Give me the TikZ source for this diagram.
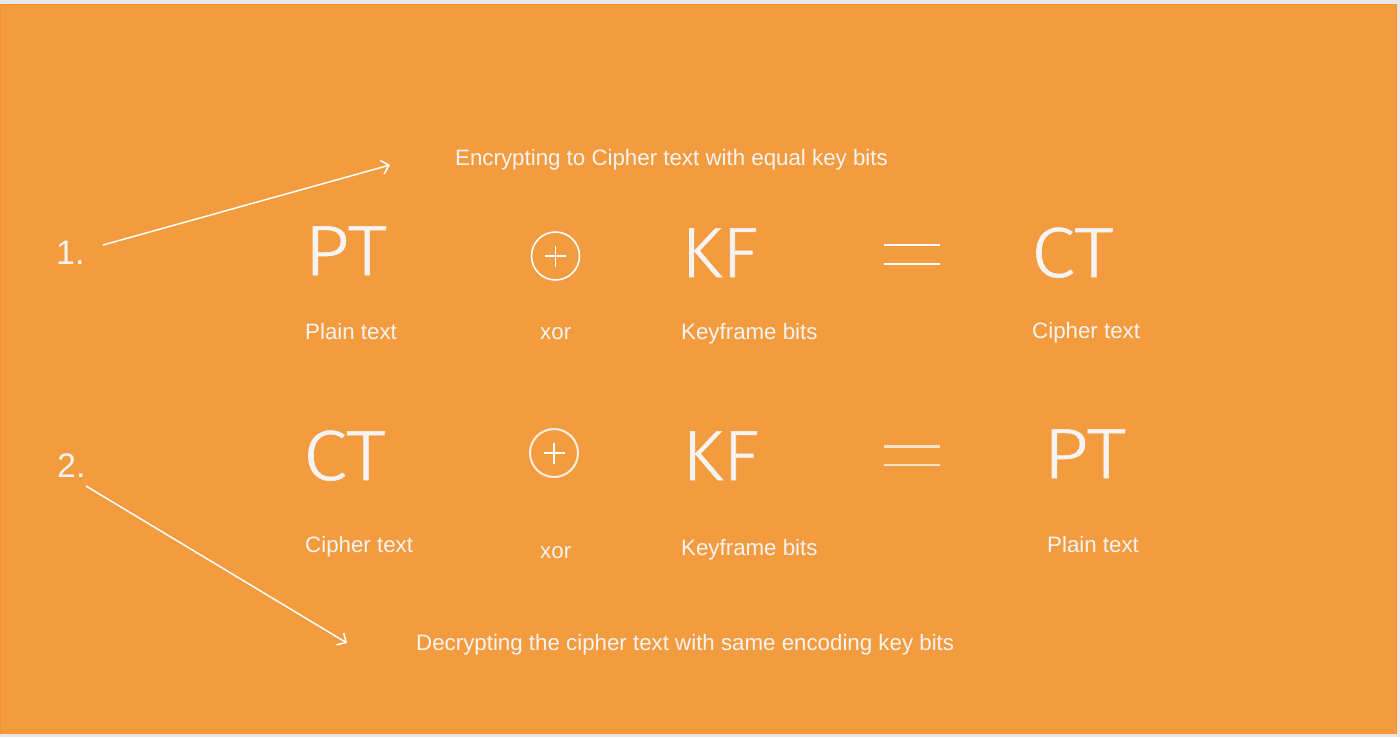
\documentclass[tikz,border=0pt]{standalone}
\usepackage{fontspec}
\setmainfont{Liberation Sans}
\newfontfamily\bigfont[FakeStretch=1.12,FakeBold=0.8]{Fira Sans Light}
\newfontfamily\bigfontk[FakeStretch=1.05,FakeBold=0.8]{Fira Sans Light}
\usetikzlibrary{arrows.meta}
\definecolor{bgorange}{HTML}{F39B3F}
\definecolor{edgeorange}{HTML}{F7921E}
\definecolor{pagegray}{HTML}{E6E6E6}
\definecolor{txt}{HTML}{F6F4F2}
\tikzset{
  lbl/.style={anchor=base west, inner sep=0pt, text=txt, font=\fontsize{22.3}{26}\selectfont},
  big/.style={anchor=base west, inner sep=0pt, text=txt, font=\bigfont\fontsize{71}{80}\selectfont},
  bigk/.style={anchor=base west, inner sep=0pt, text=txt, font=\bigfontk\fontsize{71}{80}\selectfont},
  num/.style={anchor=base west, inner sep=0pt, text=txt, font=\fontsize{34}{40}\selectfont},
  pointer/.style={draw=white, line width=1.5pt, -{Straight Barb[length=7pt,width=14pt,line width=1.5pt]}},
  xorring/.style={draw=white, line width=1.6pt},
  eqline/.style={draw=white, line width=1.4pt},
  eqlinesoft/.style={draw=white, draw opacity=0.7, line width=2.2pt}
}
\begin{document}
\begin{tikzpicture}[x=1pt,y=-1pt]
\useasboundingbox (0,0) rectangle (1400,737);
\fill[pagegray] (0,0) rectangle (1400,737);
\fill[bgorange, draw=edgeorange, line width=1pt] (0,4) rectangle (1396,733);

% headings
\node[lbl] (enc) at (455,165) {Encrypting to Cipher text with equal key bits};
\node[lbl] (dec) at (416,650) {Decrypting the cipher text with same encoding key bits};

% step numbers and pointers
\node[num] (one) at (56,264) {1.};
\node[num] (two) at (57,477) {2.};
\coordinate (a1s) at (103,245);
\coordinate (a1e) at (390,165);
\coordinate (a2s) at (86,486);
\coordinate (a2e) at (347,643);
\draw[pointer] (a1s) -- (a1e);
\draw[pointer] (a2s) -- (a2e);

% row 1
\node[big] (pt1) at (304,275) {PT};
\node[xorring, circle, minimum size=48pt, inner sep=0pt] (x1) at (555.5,256) {};
\draw[white, line width=1.2pt] ([xshift=-10.5pt]x1.center) -- ([xshift=10.5pt]x1.center)
      ([yshift=-10.5pt]x1.center) -- ([yshift=10.5pt]x1.center);
\node[bigk] (kf1) at (681,277) {KF};
\coordinate (e1a) at (884,245); \coordinate (e1b) at (940,245);
\coordinate (e1c) at (884,264); \coordinate (e1d) at (940,264);
\draw[eqline] (e1a) -- (e1b) (e1c) -- (e1d);
\node[big] (ct1) at (1031,277) {CT};

\node[lbl] (l11) at (305,339) {Plain text};
\node[lbl] (l12) at (540,339) {xor};
\node[lbl] (l13) at (681,339) {Keyframe bits};
\node[lbl] (l14) at (1032,338) {Cipher text};

% row 2
\node[big] (ct2) at (303,480) {CT};
\node[xorring, circle, minimum size=48pt, inner sep=0pt, draw opacity=0.85, line width=2pt] (x2) at (554,453) {};
\draw[white, line width=1.2pt] ([xshift=-10.5pt]x2.center) -- ([xshift=10.5pt]x2.center)
      ([yshift=-10.5pt]x2.center) -- ([yshift=10.5pt]x2.center);
\node[bigk] (kf2) at (682,480) {KF};
\coordinate (e2a) at (884,446.5); \coordinate (e2b) at (940,446.5);
\coordinate (e2c) at (884,465); \coordinate (e2d) at (940,465);
\draw[eqlinesoft] (e2a) -- (e2b) (e2c) -- (e2d);
\node[big] (pt2) at (1043,478) {PT};

\node[lbl] (l21) at (305,552) {Cipher text};
\node[lbl] (l22) at (540,558) {xor};
\node[lbl] (l23) at (681,555) {Keyframe bits};
\node[lbl] (l24) at (1047,552) {Plain text};
\end{tikzpicture}
\end{document}
